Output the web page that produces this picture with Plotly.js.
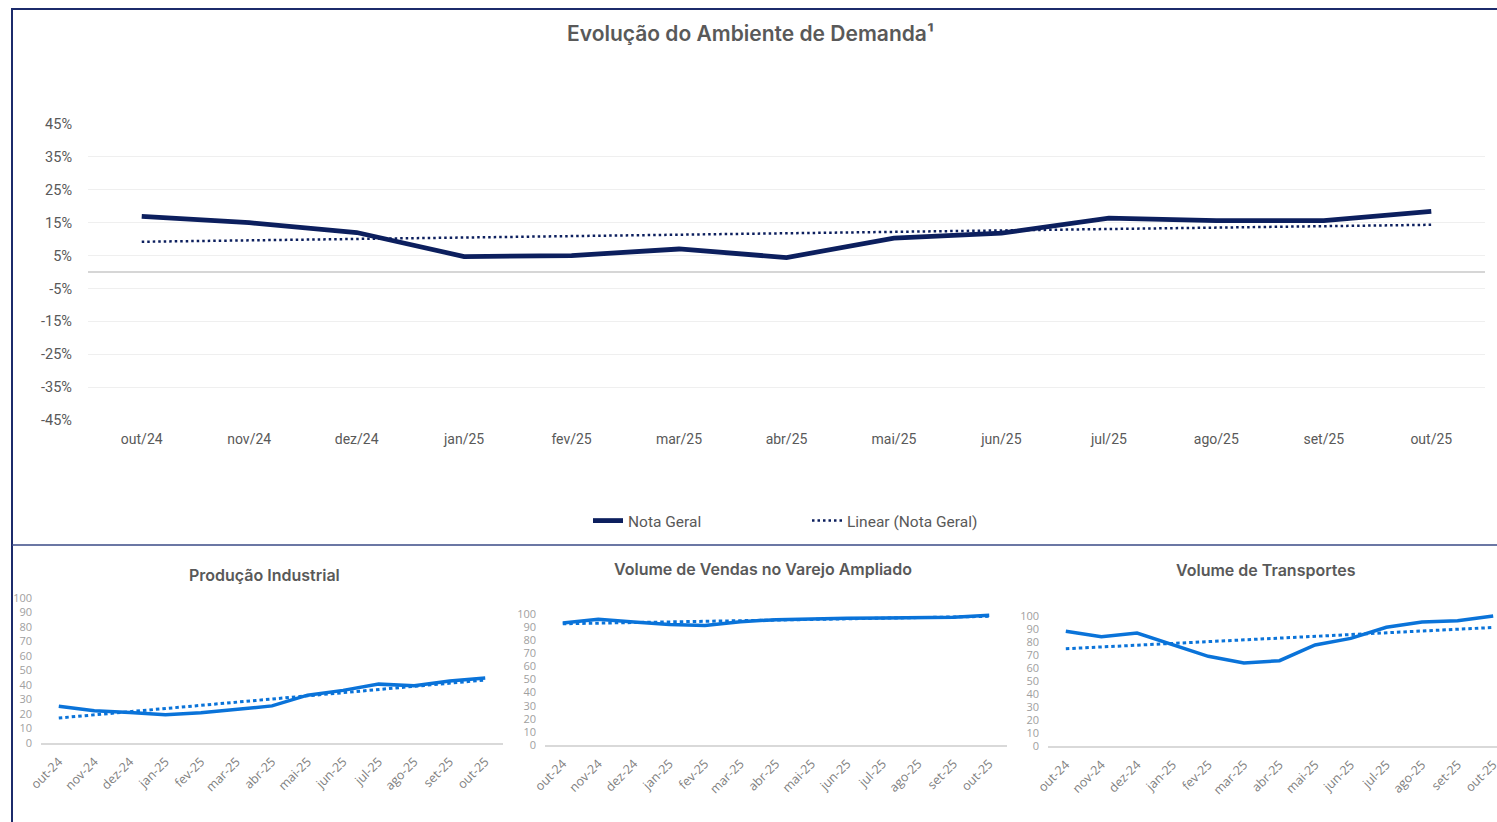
<!DOCTYPE html>
<html>
<head>
<meta charset="utf-8">
<script src="https://cdn.plot.ly/plotly-3.0.1.min.js"></script>
<style>
html,body{margin:0;padding:0;background:#fff;overflow:hidden;width:1497px;height:822px;}
#chart{width:1520px;height:822px;}
</style>
</head>
<body>
<div id="chart"></div>
<script>
// ---------- DATA ----------
const mainMonths = ['out/24','nov/24','dez/24','jan/25','fev/25','mar/25','abr/25','mai/25','jun/25','jul/25','ago/25','set/25','out/25'];
const notaGeral = [16.9, 15.0, 12.0, 4.7, 5.0, 7.0, 4.4, 10.3, 11.8, 16.4, 15.6, 15.6, 18.4];
const mainYTickVals = [45, 35, 25, 15, 5, -5, -15, -25, -35, -45];
const mainYTickText = ['45%', '35%', '25%', '15%', '5%', '-5%', '-15%', '-25%', '-35%', '-45%'];

const smallMonths = ['out-24','nov-24','dez-24','jan-25','fev-25','mar-25','abr-25','mai-25','jun-25','jul-25','ago-25','set-25','out-25'];
const producaoIndustrial = [25.4, 22.2, 21.0, 19.4, 20.8, 23.1, 25.6, 33.0, 36.3, 40.6, 39.5, 42.7, 44.8];
const vendasVarejo = [93.1, 95.9, 93.9, 91.9, 91.3, 94.1, 95.7, 96.4, 96.7, 96.9, 97.5, 97.5, 99.0];
const volumeTransportes = [88.2, 84.1, 86.9, 77.9, 69.0, 63.8, 65.6, 77.7, 82.8, 91.3, 95.4, 96.4, 100.0];
const smallYTickVals = [0, 10, 20, 30, 40, 50, 60, 70, 80, 90, 100];

const mainTitle = 'Evolução do Ambiente de Demanda¹';
const smallTitles = ['Produção Industrial', 'Volume de Vendas no Varejo Ampliado', 'Volume de Transportes'];
const legendNames = ['Nota Geral', 'Linear (Nota Geral)'];

// least-squares linear trendline (as Excel "Linear" trendline)
function linearTrend(vals) {
  const n = vals.length;
  const mx = (n - 1) / 2;
  const my = vals.reduce((a, b) => a + b, 0) / n;
  let sxy = 0, sxx = 0;
  vals.forEach((v, i) => { sxy += (i - mx) * (v - my); sxx += (i - mx) * (i - mx); });
  const b = sxy / sxx;
  return vals.map((v, i) => my + b * (i - mx));
}

// ---------- LAYOUT HELPERS ----------
const W = 1520, H = 822;
const px = x => x / W;
const py = y => 1 - y / H;

const navy = '#0c1f5e';
const blue = '#0a73d9';
const frame = '#1c2b6b';

const traces = [];
traces.push({
  x: mainMonths, y: notaGeral, type: 'scatter', mode: 'lines', name: legendNames[0],
  line: {color: navy, width: 4.8}, xaxis: 'x', yaxis: 'y', legend: 'legend', hoverinfo: 'skip'
});
traces.push({
  x: mainMonths, y: linearTrend(notaGeral), type: 'scatter', mode: 'lines', name: legendNames[1],
  line: {color: navy, width: 2.5, dash: '2.5px,3px'}, xaxis: 'x', yaxis: 'y', legend: 'legend2', hoverinfo: 'skip'
});

const smallSeries = [producaoIndustrial, vendasVarejo, volumeTransportes];
smallSeries.forEach((s, k) => {
  const ax = k + 2;
  traces.push({
    x: smallMonths, y: s, type: 'scatter', mode: 'lines', showlegend: false,
    line: {color: blue, width: 3.5}, xaxis: 'x' + ax, yaxis: 'y' + ax, hoverinfo: 'skip'
  });
  traces.push({
    x: smallMonths, y: linearTrend(s), type: 'scatter', mode: 'lines', showlegend: false,
    line: {color: blue, width: 3, dash: '3.5px,3px'}, xaxis: 'x' + ax, yaxis: 'y' + ax, hoverinfo: 'skip'
  });
});

const layout = {
  width: W, height: H,
  margin: {l: 0, r: 0, t: 0, b: 0},
  paper_bgcolor: '#ffffff', plot_bgcolor: 'rgba(0,0,0,0)',
  font: {family: 'Roboto, sans-serif', color: '#595959'},
  xaxis: {
    domain: [px(88), px(1485)], anchor: 'y', type: 'category', range: [-0.5, 12.5],
    showgrid: false, zeroline: false, showline: false, ticks: '',
    tickfont: {family: 'Roboto', size: 14, color: '#595959'}, ticklabelstandoff: 9, fixedrange: true
  },
  yaxis: {
    domain: [py(420), py(124)], anchor: 'x', range: [-45, 45],
    tickvals: mainYTickVals, ticktext: mainYTickText,
    showgrid: true, gridcolor: '#efefef', gridwidth: 1,
    zeroline: true, zerolinecolor: '#d6d6d6', zerolinewidth: 2,
    showline: false, ticks: '', ticklabelstandoff: 15,
    tickfont: {family: 'Roboto', size: 14.5, color: '#595959'}, fixedrange: true
  },
  legend: {
    orientation: 'h', x: px(588), y: py(521), xanchor: 'left', yanchor: 'middle',
    font: {family: 'Roboto', size: 15.5, color: '#595959'}, bgcolor: 'rgba(0,0,0,0)'
  },
  legend2: {
    orientation: 'h', x: px(807), y: py(521), xanchor: 'left', yanchor: 'middle',
    font: {family: 'Roboto', size: 15.5, color: '#595959'}, bgcolor: 'rgba(0,0,0,0)'
  },
  annotations: [
    {text: mainTitle, x: px(750), y: py(33), xref: 'paper', yref: 'paper', showarrow: false,
     xanchor: 'center', yanchor: 'middle', font: {family: 'Inter', size: 21, color: '#595959', weight: 600}}
  ],
  shapes: [
    {type: 'line', xref: 'paper', yref: 'paper', x0: px(12), x1: px(12), y0: py(8), y1: py(822), line: {color: frame, width: 2}},
    {type: 'line', xref: 'paper', yref: 'paper', x0: px(11), x1: 1, y0: py(9), y1: py(9), line: {color: frame, width: 2}},
    {type: 'line', xref: 'paper', yref: 'paper', x0: px(12), x1: 1, y0: py(545), y1: py(545), line: {color: '#3a4a86', width: 1.5}}
  ]
};

// small charts geometry: [plotLeft, plotRight, y100, y0, titleX, titleY]
const smallGeo = [
  [41, 503, 598, 743, 264, 575],
  [545, 1007, 614, 745, 763, 569],
  [1048, 1511, 616, 746, 1266, 570]
];
smallGeo.forEach((g, k) => {
  const ax = k + 2;
  const ppu = (g[3] - g[2]) / 100;
  const top = g[2] - 3 * ppu;
  layout['xaxis' + ax] = {
    domain: [px(g[0]), px(g[1])], anchor: 'y' + ax, type: 'category', range: [-0.5, 12.5],
    showgrid: false, zeroline: false, showline: true, linecolor: '#d9d9d9', linewidth: 1.5,
    ticks: '', tickangle: -45, ticklabelstandoff: 5,
    tickfont: {family: 'Open Sans', size: 12.5, color: '#7f7f7f'}, fixedrange: true
  };
  layout['yaxis' + ax] = {
    domain: [py(g[3]), py(top)], anchor: 'x' + ax, range: [0, 103],
    tickvals: smallYTickVals, showgrid: false, zeroline: false, showline: false, ticks: '',
    ticklabelstandoff: 8, tickfont: {family: 'Open Sans', size: 11, color: '#a0a0a0'}, fixedrange: true
  };
  layout.annotations.push({
    text: smallTitles[k], x: px(g[4]), y: py(g[5]), xref: 'paper', yref: 'paper', showarrow: false,
    xanchor: 'center', yanchor: 'middle', font: {family: 'Inter', size: 16, color: '#595959', weight: 600}
  });
});

Plotly.newPlot('chart', traces, layout, {displayModeBar: false, staticPlot: true});
</script>
</body>
</html>
